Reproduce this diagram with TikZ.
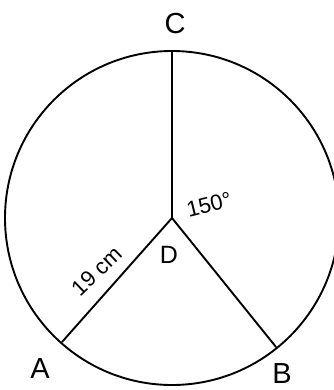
\documentclass[tikz,border=0pt]{standalone}
\usepackage{fontspec}
\setmainfont{Liberation Sans}

\begin{document}
\begin{tikzpicture}[x=1pt, y=-1pt,
  edge/.style={
    line width=1.9pt, line cap=round, color=black
  },
  pointlbl/.style={
    font=\fontsize{29}{29}\selectfont, inner sep=0pt
  },
  measure/.style={
    font=\fontsize{22}{22}\selectfont, inner sep=0pt
  }
]
\useasboundingbox (0,0) rectangle (333,390);

% Centre and ends of the radii
\coordinate (D) at (172,218);
\coordinate (C) at (172,51);
\coordinate (A) at (62,342);
\coordinate (B) at (276,347);

% Circle and radii
\draw[edge] (D) circle (167pt);
\draw[edge] (D) -- (C);
\draw[edge] (D) -- (A);
\draw[edge] (D) -- (B);

% Point labels
\node[pointlbl] (labC) at (175,24)  {C};
\node[pointlbl] (labA) at (40,369)  {A};
\node[pointlbl] (labB) at (282,374) {B};
\node[pointlbl, font=\fontsize{25}{25}\selectfont] (labD) at (169,255) {D};

% Measures
\node[measure, rotate=14] (angle) at (209,205) {150°};
\node[measure, rotate=44] (radius) at (97,271) {19 cm};

\end{tikzpicture}
\end{document}
